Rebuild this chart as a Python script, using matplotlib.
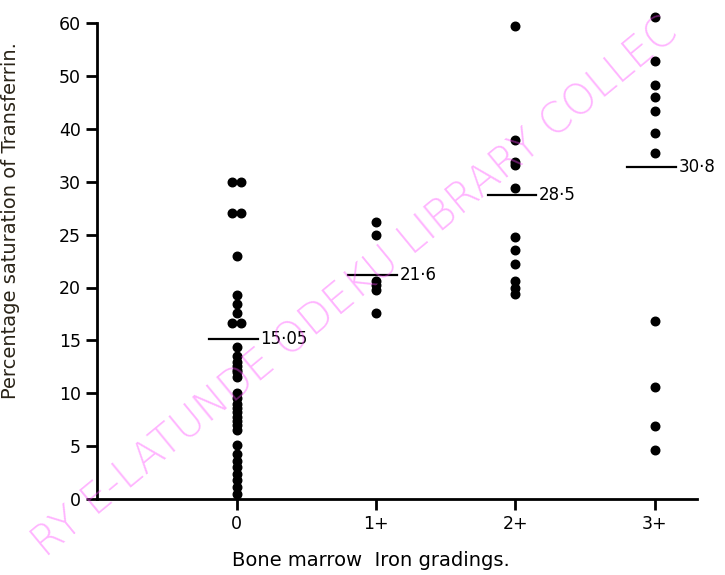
import numpy as np
from matplotlib import pyplot as plt

# bone marrow iron grading groups
grades = ['0', '1+', '2+', '3+']
# percentage saturation of transferrin
sat_0 = [30, 30, 27, 27, 23, 19.3, 18.4, 17.6, 16.6, 16.6, 14.4, 13.5, 13.0, 12.6,
         12.2, 12.0, 11.5, 10.0, 9.6, 9.0, 8.6, 8.2, 7.8, 7.4, 7.0, 6.5, 5.1, 4.3,
         3.6, 3.0, 2.4, 1.8, 1.1, 0.5]
sat_1 = [26.2, 25.0, 20.6, 20.2, 19.8, 17.6]
sat_2 = [59.4, 37.8, 33.8, 33.2, 29.4, 24.8, 23.5, 22.2, 20.6, 20.0, 19.4]
sat_3 = [61.2, 52.9, 48.2, 46.1, 43.3, 39.3, 35.5, 16.8, 10.6, 6.9, 4.6]
groups = [sat_0, sat_1, sat_2, sat_3]
# mean bars as drawn, and their printed labels
mean_pos = [15.1, 21.2, 28.7, 32.7]
mean_lbl = ['15·05', '21·6', '28·5', '30·8']
yticks = [0, 5, 10, 15, 20, 25, 30, 40, 50, 60]


def fwd(y):
    y = np.asarray(y, dtype=float)
    return np.where(y <= 30, y, 30 + (y - 30) / 2)


def inv(t):
    t = np.asarray(t, dtype=float)
    return np.where(t <= 30, t, 30 + (t - 30) * 2)


fig = plt.figure(figsize=(7.25, 5.75), dpi=100)
ax = fig.add_axes([0.134, 0.132, 0.827, 0.828])
ax.set_yscale('function', functions=(fwd, inv))

for i, vals in enumerate(groups):
    xs = []
    for j, v in enumerate(vals):
        n = vals.count(v)
        if n > 1:
            k = [m for m, w in enumerate(vals) if w == v].index(j)
            xs.append(i + (k - (n - 1) / 2) * 0.07)
        else:
            xs.append(i)
    ax.scatter(xs, vals, s=38, color='black', zorder=3, clip_on=False)
    ax.plot([i - 0.2, i + 0.15], [mean_pos[i], mean_pos[i]], color='black', lw=1.6)
    ax.text(i + 0.17, mean_pos[i], mean_lbl[i], va='center', ha='left',
            fontsize=12, clip_on=False)

ax.set_xlim(-1, 3.3)
ax.set_ylim(0, 60)
ax.set_yticks(yticks)
ax.set_yticklabels([str(t) for t in yticks], fontsize=12.5)
ax.set_xticks(range(len(grades)))
ax.set_xticklabels(grades, fontsize=12.5)
ax.tick_params(axis='both', direction='out', length=8, width=2)
ax.minorticks_off()
for s in ['top', 'right']:
    ax.spines[s].set_visible(False)
for s in ['left', 'bottom']:
    ax.spines[s].set_linewidth(2)

ax.set_ylabel('Percentage saturation of Transferrin.', fontsize=14, color='#2a2418')
ax.yaxis.set_label_coords(-0.128, 0.585)
ax.set_xlabel('Bone marrow  Iron gradings.', fontsize=14)
ax.xaxis.set_label_coords(0.457, -0.11)

# library watermark
fig.text(0.49, 0.50, 'RY E-LATUNDE ODEKU LIBRARY COLLEC', rotation=39.5,
         ha='center', va='center', fontsize=30, color='#ff44ff', alpha=0.4,
         fontweight='light', zorder=0)

fig.savefig('out.png', dpi=100)
